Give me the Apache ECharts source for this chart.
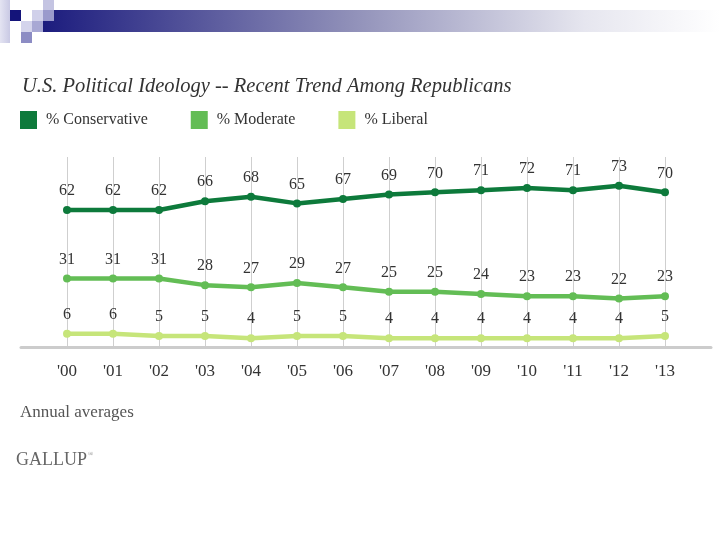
<!DOCTYPE html>
<html>
<head>
<meta charset="utf-8">
<script src="https://cdn.jsdelivr.net/npm/echarts@6/dist/echarts.min.js"></script>
<style>
html,body{margin:0;padding:0;background:#fff;}
#c{width:720px;height:540px;}
</style>
</head>
<body>
<div id="c"></div>
<script>
var years = [2000,2001,2002,2003,2004,2005,2006,2007,2008,2009,2010,2011,2012,2013];
var tickLabels = ["'00","'01","'02","'03","'04","'05","'06","'07","'08","'09","'10","'11","'12","'13"];
var conservative = [62,62,62,66,68,65,67,69,70,71,72,71,73,70];
var moderate = [31,31,31,28,27,29,27,25,25,24,23,23,22,23];
var liberal = [6,6,5,5,4,5,5,4,4,4,4,4,4,5];

var seriesNames = ['% Conservative','% Moderate','% Liberal'];
var seriesColors = ['#0d7a3b','#63bd55','#c6e57a'];
var seriesValues = [conservative, moderate, liberal];

var serif = "'Liberation Serif', 'DejaVu Serif', serif";

function pairs(vals){ return years.map(function(y,i){ return [y, vals[i]]; }); }

var chart = echarts.init(document.getElementById('c'), null, {renderer:'canvas'});

var series = seriesNames.map(function(name, k){
  return {
    name: name,
    type: 'line',
    data: pairs(seriesValues[k]),
    symbol: 'circle',
    symbolSize: 8,
    lineStyle: {width: 4.5, color: seriesColors[k]},
    itemStyle: {color: seriesColors[k]},
    label: {
      show: true, position: 'top', distance: 7,
      fontFamily: serif, fontSize: 16, color: '#333'
    },
    emphasis: {disabled: true},
    animation: false
  };
});

var option = {
  backgroundColor: '#ffffff',
  animation: false,
  title: {
    text: 'U.S. Political Ideology -- Recent Trend Among Republicans',
    left: 17, top: 72,
    textStyle: {fontFamily: serif, fontStyle: 'italic', fontWeight: 'normal', fontSize: 20.5, color: '#333'}
  },
  legend: {
    left: 20, top: 111, padding: 0,
    icon: 'rect', itemWidth: 17, itemHeight: 18, itemGap: 43,
    textStyle: {fontFamily: serif, fontSize: 16, color: '#333', padding: [0,0,0,4]},
    data: seriesNames
  },
  grid: {left: 21, right: 9, top: 157, bottom: 193, containLabel: false},
  xAxis: {
    type: 'value', min: 1999, max: 2014, interval: 1,
    axisLine: {show: true, lineStyle: {color: '#cccccc', width: 3}},
    axisTick: {show: false},
    splitLine: {show: true, showMinLine: false, showMaxLine: false, lineStyle: {color: '#cfcfcf', width: 1}},
    axisLabel: {
      margin: 16, fontFamily: serif, fontSize: 17, color: '#333',
      formatter: function(v){ var i = years.indexOf(v); return i >= 0 ? tickLabels[i] : ''; }
    }
  },
  yAxis: {type: 'value', min: 0, max: 86, show: false, splitLine: {show: false}},
  series: series,
  graphic: [
    {type: 'rect', left: 43, top: 10, shape: {width: 677, height: 22},
      style: {fill: new echarts.graphic.LinearGradient(0,0,1,0,[{offset:0,color:'#1c1c7e'},{offset:0.45,color:'#8f8fb8'},{offset:0.8,color:'#e6e6ef'},{offset:1,color:'#ffffff'}])}, silent: true},
    {type: 'rect', left: 0, top: 0, shape: {width: 10, height: 43},
      style: {fill: new echarts.graphic.LinearGradient(0,0,1,0,[{offset:0,color:'#e4e4f2'},{offset:1,color:'#c9c9e4'}])}, silent: true},
    {type: 'rect', left: 10, top: 10, shape: {width: 11, height: 11}, style: {fill: '#14147a'}, silent: true},
    {type: 'rect', left: 32, top: 10, shape: {width: 11, height: 11}, style: {fill: '#d0d0ea'}, silent: true},
    {type: 'rect', left: 43, top: 0, shape: {width: 11, height: 10}, style: {fill: '#c4c4e2'}, silent: true},
    {type: 'rect', left: 43, top: 10, shape: {width: 11, height: 11}, style: {fill: '#9a9acc'}, silent: true},
    {type: 'rect', left: 21, top: 21, shape: {width: 11, height: 11}, style: {fill: '#d4d4ec'}, silent: true},
    {type: 'rect', left: 32, top: 21, shape: {width: 11, height: 11}, style: {fill: '#a8a8d4'}, silent: true},
    {type: 'rect', left: 21, top: 32, shape: {width: 11, height: 11}, style: {fill: '#8c8cc4'}, silent: true},
    {type: 'text', left: 20, top: 404, style: {text: 'Annual averages', font: "17px 'Liberation Serif', serif", fill: '#555'}, silent: true},
    {type: 'text', left: 16, top: 451, style: {text: 'GALLUP', font: "18px 'Liberation Serif', serif", fill: '#666'}, silent: true},
    {type: 'text', left: 88, top: 451, style: {text: '®', font: "7px 'Liberation Serif', serif", fill: '#888'}, silent: true}
  ]
};
chart.setOption(option);
</script>
</body>
</html>
